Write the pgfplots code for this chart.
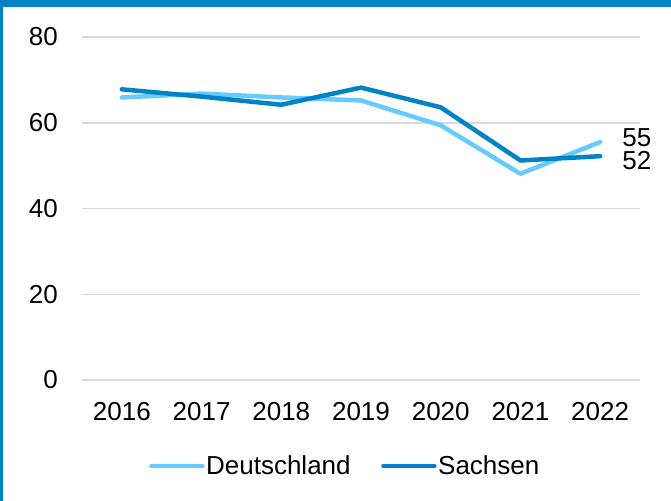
\documentclass[border=0pt]{standalone}
\usepackage{fontspec}
\setmainfont{Liberation Sans}
\usepackage{pgfplots}
\pgfplotsset{compat=1.18}
\definecolor{lb}{RGB}{102,204,255}
\definecolor{db}{RGB}{0,130,198}
\definecolor{gr}{RGB}{217,217,217}
\begin{document}
\begin{tikzpicture}[font=\fontsize{26bp}{31bp}\selectfont]
\useasboundingbox (0,0) rectangle (671bp,501bp);
\fill[db] (0,494bp) rectangle (671bp,501bp);
\fill[db] (0,0) rectangle (3bp,501bp);
\begin{axis}[
  at={(82bp,121bp)}, anchor=south west, scale only axis,
  width=558bp, height=343bp,
  xmin=-0.5, xmax=6.5, ymin=0, ymax=80,
  xtick={0,1,2,3,4,5,6},
  xticklabels={2016,2017,2018,2019,2020,2021,2022},
  ytick={0,20,40,60,80},
  /pgf/number format/assume math mode=true,
  axis line style={draw=none},
  major tick length=0pt,
  ymajorgrids,
  major grid style={gr, line width=1.5bp},
  yticklabel style={inner sep=0pt, xshift=-24bp},
  xticklabel style={inner sep=0pt, yshift=-22bp},
  clip=false,
  legend columns=2,
  legend style={draw=none, fill=none, at={(0.4713,-0.2507)}, anchor=center,
    nodes={inner sep=1.5bp},
    /tikz/every even column/.append style={column sep=29bp}},
  legend image code/.code={\draw[#1, line width=4.5bp, line cap=round] (0bp,0bp) -- (51bp,0bp);},
]
\addplot[lb, line width=4.5bp, line cap=round, line join=round] coordinates {
  (0,65.9) (1,66.8) (2,65.9) (3,65.2) (4,59.4) (5,48.1) (6,55.5)};
\addlegendentry{Deutschland}
\addplot[db, line width=4.5bp, line cap=round, line join=round] coordinates {
  (0,67.8) (1,66.1) (2,64.2) (3,68.2) (4,63.6) (5,51.2) (6,52.2)};
\addlegendentry{Sachsen}
\node[anchor=west, inner sep=0pt] at (axis cs:6.276,56.56) {55};
\node[anchor=west, inner sep=0pt] at (axis cs:6.276,51.08) {52};
\end{axis}
\end{tikzpicture}
\end{document}
